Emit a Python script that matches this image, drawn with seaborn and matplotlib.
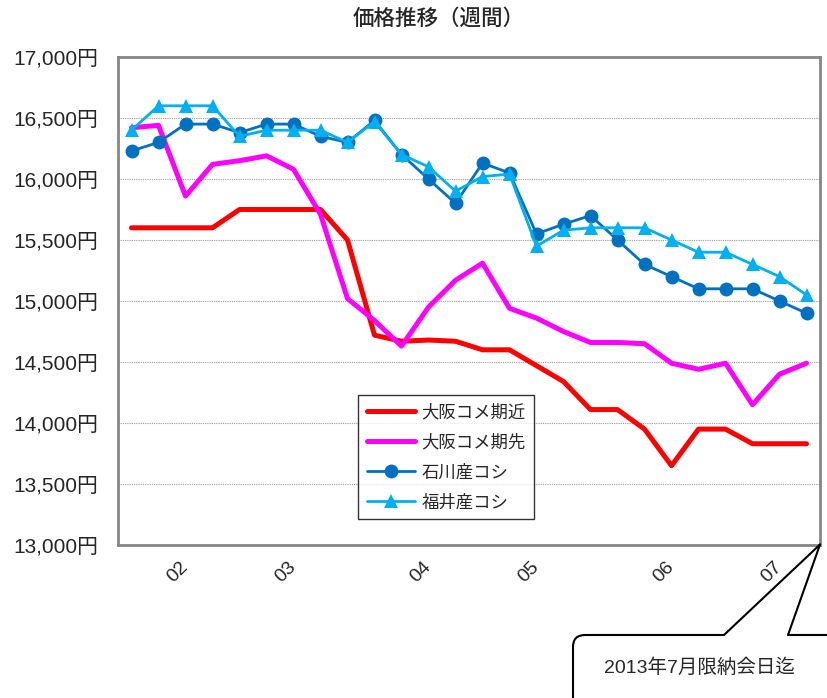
import matplotlib
matplotlib.use("Agg")
import matplotlib.pyplot as plt
import matplotlib.patches as mpatches
from matplotlib.lines import Line2D
import numpy as np
import pandas as pd
import seaborn as sns

# weekly points, 26 weeks up to the July 2013 delivery date
weeks = list(range(26))
tick_pos = [2, 6, 11, 15, 20, 24]
tick_labels = ["02", "03", "04", "05", "06", "07"]

osaka_near = [15600, 15600, 15600, 15600, 15750, 15750, 15750, 15750, 15500, 14720,
              14670, 14680, 14670, 14600, 14600, 14470, 14340, 14110, 14110, 13950,
              13650, 13950, 13950, 13830, 13830, 13830]
osaka_far = [16420, 16440, 15860, 16120, 16150, 16190, 16080, 15710, 15020, 14840,
             14630, 14950, 15170, 15310, 14940, 14860, 14750, 14660, 14660, 14650,
             14490, 14440, 14490, 14150, 14400, 14490]
ishikawa = [16230, 16300, 16450, 16450, 16380, 16450, 16450, 16350, 16300, 16480,
            16200, 16000, 15800, 16130, 16050, 15550, 15630, 15700, 15500, 15300,
            15200, 15100, 15100, 15100, 15000, 14900]
fukui = [16400, 16600, 16600, 16600, 16350, 16400, 16400, 16400, 16300, 16470,
         16200, 16100, 15900, 16020, 16040, 15450, 15580, 15600, 15600, 15600,
         15500, 15400, 15400, 15300, 15200, 15050]

series_names = ["大阪コメ期近", "大阪コメ期先", "石川産コシ", "福井産コシ"]
y_ticks = list(range(13000, 17001, 500))

sns.set_style("white")
plt.rcParams['font.family'] = ['Liberation Sans', 'Noto Sans CJK JP', 'DejaVu Sans']

fig = plt.figure(figsize=(8.27, 6.98), dpi=100)
ax = fig.add_axes([118 / 827, 1 - 545 / 698, 702 / 827, 488 / 698])

styles = [
    dict(color="#FF0000", lw=3.6, marker=None),
    dict(color="#FF00FF", lw=3.6, marker=None),
    dict(color="#0070C0", lw=2.0, marker="o", ms=10),
    dict(color="#00B0F0", lw=2.0, marker="^", ms=10),
]
for name, vals, st in zip(series_names, [osaka_near, osaka_far, ishikawa, fukui], styles):
    df = pd.DataFrame({"week": weeks, "price": vals})
    kw = dict(color=st["color"], linewidth=st["lw"], label=name)
    if st["marker"]:
        kw.update(marker=st["marker"], markersize=st["ms"], markeredgewidth=0)
    sns.lineplot(data=df, x="week", y="price", ax=ax, **kw)

ax.set_xlim(-0.5, 25.5)
ax.set_ylim(13000, 17000)
ax.set_yticks(y_ticks)
ax.set_yticklabels([f"{v:,}円" for v in y_ticks], fontsize=15)
ax.set_xticks(tick_pos)
ax.set_xticklabels(tick_labels, fontsize=14, rotation=45, ha="right", va="center",
                   rotation_mode="anchor")
ax.tick_params(axis="both", length=0)
ax.tick_params(axis="x", pad=14)
ax.tick_params(axis="y", pad=14)
ax.set_xlabel("")
ax.set_ylabel("")
ax.yaxis.grid(True, linestyle=(0, (1, 1)), color="#999999", linewidth=0.8)
ax.xaxis.grid(False)
for sp in ax.spines.values():
    sp.set_color("#868686")
    sp.set_linewidth(2)

fig.text(439 / 827, 1 - 19 / 698, "価格推移（週間）", ha="center", va="center",
         fontsize=15.5, fontweight="medium")

leg = ax.legend(loc="upper left", bbox_to_anchor=(358 / 827, 1 - 395 / 698),
                bbox_transform=fig.transFigure, fontsize=12.5, frameon=True,
                fancybox=False, borderpad=0.5, labelspacing=0.78, handlelength=2.8,
                handletextpad=0.35, borderaxespad=0)
leg.get_frame().set_edgecolor("black")
leg.get_frame().set_linewidth(1.0)

# callout box in the lower right corner (inches from bottom left)
tr = fig.dpi_scale_trans
box = mpatches.FancyBboxPatch((5.73, -0.4), 3.0, 1.03,
                              boxstyle="round,pad=0,rounding_size=0.12",
                              transform=tr, facecolor="white", edgecolor="black",
                              linewidth=1.5, clip_on=False)
fig.patches.append(box)
tip = (8.20, 1.535)
cover = mpatches.Polygon([(7.245, 0.61), (7.245, 0.63), tip, (7.875, 0.63), (7.875, 0.61)],
                         closed=True, transform=tr, facecolor="white", edgecolor="none")
fig.patches.append(cover)
for x0 in (7.24, 7.88):
    fig.lines.append(Line2D([x0, tip[0]], [0.63, tip[1]], transform=tr, color="black", lw=1.5))
fig.text(6.99, 6.98 - 6.68, "2013年7月限納会日迄", transform=tr, ha="center", va="center",
         fontsize=14)

fig.savefig("out.png", dpi=100)
